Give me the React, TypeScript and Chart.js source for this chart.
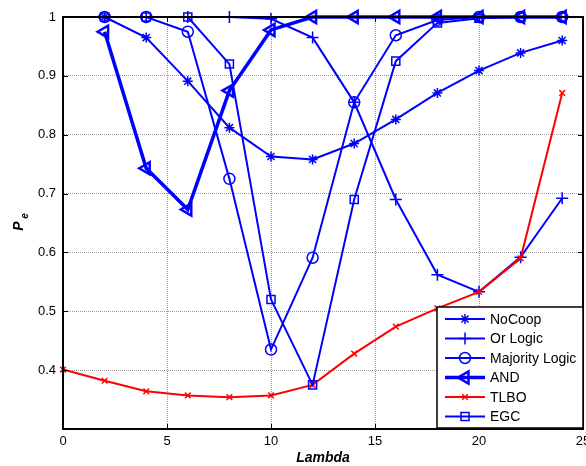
import React, { useEffect, useRef } from "react";
import { Chart, registerables } from "chart.js";
import { drawPoint } from "chart.js/helpers";

Chart.register(...registerables);

const LAMBDA = [2, 4, 6, 8, 10, 12, 14, 16, 18, 20, 22, 24];
const LAMBDA_TLBO = [0, 2, 4, 6, 8, 10, 12, 14, 16, 18, 20, 22, 24];

const NOCOOP = [1.0, 0.965, 0.891, 0.812, 0.763, 0.758, 0.785, 0.826, 0.871, 0.909, 0.939, 0.96];
const OR_LOGIC = [1.0, 1.0, 1.0, 1.0, 0.997, 0.965, 0.855, 0.69, 0.562, 0.533, 0.592, 0.692];
const MAJORITY = [1.0, 1.0, 0.975, 0.725, 0.435, 0.591, 0.855, 0.969, 0.995, 1.0, 1.0, 1.0];
const AND_LOGIC = [0.975, 0.743, 0.673, 0.875, 0.978, 1.0, 1.0, 1.0, 1.0, 1.0, 1.0, 1.0];
const TLBO = [0.401, 0.382, 0.364, 0.357, 0.354, 0.357, 0.375, 0.428, 0.474, 0.505, 0.533, 0.59, 0.871];
const EGC = [1.0, 1.0, 1.0, 0.92, 0.52, 0.375, 0.69, 0.925, 0.99, 0.998, 1.0, 1.0];

const X_TICKS = [0, 5, 10, 15, 20, 25];
const Y_TICKS = [0.3, 0.4, 0.5, 0.6, 0.7, 0.8, 0.9, 1];

const FONT = "'Liberation Sans', Arial, sans-serif";

const toPts = (xs: number[], ys: number[]) => xs.map((x, i) => ({ x, y: ys[i] }));

export default function App() {
  const ref = useRef<HTMLCanvasElement | null>(null);

  useEffect(() => {
    if (!ref.current) return;
    const blue = "#0000ff";
    const red = "#ff0000";
    const mk = (label: string, xs: number[], ys: number[], color: string, lw: number, style: string, r: number, rot: number, order: number) => ({
      label,
      data: toPts(xs, ys),
      borderColor: color,
      backgroundColor: color,
      borderWidth: lw,
      pointStyle: style,
      pointRadius: r,
      pointRotation: rot,
      pointBorderColor: color,
      pointBackgroundColor: "rgba(0,0,0,0)",
      pointBorderWidth: Math.max(1.5, lw * 0.7),
      tension: 0,
      clip: false,
      order,
    });
    const datasets: any[] = [
      mk("NoCoop", LAMBDA, NOCOOP, blue, 2, "star", 5, 0, 5),
      mk("Or Logic", LAMBDA, OR_LOGIC, blue, 2, "cross", 6, 0, 4),
      mk("Majority Logic", LAMBDA, MAJORITY, blue, 2, "circle", 5.5, 0, 3),
      mk("AND", LAMBDA, AND_LOGIC, blue, 3.5, "triangle", 7, -90, 2),
      mk("TLBO", LAMBDA_TLBO, TLBO, red, 2, "crossRot", 4, 0, 1),
      mk("EGC", LAMBDA, EGC, blue, 2, "rect", 5.7, 0, 0),
    ];

    const framePlugin = {
      id: "frame",
      afterDraw(chart: any) {
        const { ctx, chartArea: a } = chart;
        const xs = chart.scales.x;
        const ys = chart.scales.y;
        ctx.save();
        // inward ticks
        ctx.strokeStyle = "#000";
        ctx.lineWidth = 1;
        for (const t of X_TICKS) {
          const px = Math.round(xs.getPixelForValue(t)) + 0.5;
          ctx.beginPath();
          ctx.moveTo(px, a.bottom);
          ctx.lineTo(px, a.bottom - 5);
          ctx.moveTo(px, a.top);
          ctx.lineTo(px, a.top + 5);
          ctx.stroke();
        }
        for (const t of Y_TICKS) {
          const py = Math.round(ys.getPixelForValue(t)) + 0.5;
          ctx.beginPath();
          ctx.moveTo(a.left, py);
          ctx.lineTo(a.left + 5, py);
          ctx.moveTo(a.right, py);
          ctx.lineTo(a.right - 5, py);
          ctx.stroke();
        }
        // frame
        ctx.lineWidth = 2;
        ctx.strokeRect(a.left, a.top, a.right - a.left, a.bottom - a.top);

        // legend
        const lx = 437, ly = 307, lw = 146, lh = 121;
        ctx.fillStyle = "#fff";
        ctx.fillRect(lx, ly, lw, lh);
        ctx.lineWidth = 1.5;
        ctx.strokeStyle = "#000";
        ctx.strokeRect(lx, ly, lw, lh);
        ctx.font = `14px ${FONT}`;
        ctx.textBaseline = "middle";
        ctx.textAlign = "left";
        datasets.forEach((d, i) => {
          const y = 319 + i * 19.5;
          ctx.strokeStyle = d.borderColor;
          ctx.lineWidth = d.borderWidth;
          ctx.beginPath();
          ctx.moveTo(445, y);
          ctx.lineTo(485, y);
          ctx.stroke();
          ctx.fillStyle = "rgba(0,0,0,0)";
          ctx.lineWidth = d.pointBorderWidth;
          drawPoint(ctx, { pointStyle: d.pointStyle, radius: d.pointRadius, rotation: d.pointRotation, borderWidth: d.pointBorderWidth }, 465, y);
          ctx.fillStyle = "#000";
          ctx.fillText(d.label, 490, y + 1);
        });

        // axis titles
        ctx.fillStyle = "#000";
        ctx.font = `bold italic 14px ${FONT}`;
        ctx.textAlign = "center";
        ctx.fillText("Lambda", (a.left + a.right) / 2, 458);
        ctx.save();
        ctx.translate(19, 226);
        ctx.rotate(-Math.PI / 2);
        ctx.fillText("P", 0, 0);
        ctx.font = `bold italic 10px ${FONT}`;
        ctx.fillText("e", 10, 6);
        ctx.restore();
        ctx.restore();
      },
    };

    const chart = new Chart(ref.current, {
      type: "line",
      data: { datasets },
      options: {
        animation: false,
        responsive: false,
        maintainAspectRatio: false,
        layout: { autoPadding: false, padding: { left: 0, top: 17, right: 3, bottom: 0 } },
        plugins: { legend: { display: false }, tooltip: { enabled: false } },
        scales: {
          x: {
            type: "linear",
            min: 0,
            max: 25,
            afterBuildTicks: (s: any) => { s.ticks = X_TICKS.map((v) => ({ value: v })); },
            afterFit: (s: any) => { s.height = 37; s.paddingLeft = 0; s.paddingRight = 0; },
            ticks: { color: "#000", font: { family: FONT, size: 13 }, padding: 5, maxRotation: 0, autoSkip: false },
            grid: { color: "#9a9a9a", lineWidth: 1, drawTicks: false },
            border: { display: true, color: "#000", width: 2, dash: [1, 1] } as any,
          },
          y: {
            type: "linear",
            min: 0.3,
            max: 1,
            afterBuildTicks: (s: any) => { s.ticks = Y_TICKS.map((v) => ({ value: v })); },
            afterFit: (s: any) => { s.width = 63; s.paddingTop = 0; s.paddingBottom = 0; },
            ticks: {
              color: "#000",
              font: { family: FONT, size: 13 },
              padding: 7,
              autoSkip: false,
              callback: (v: any) => (Math.abs(v - 0.3) < 1e-6 ? "" : String(Math.round(v * 10) / 10)),
            },
            grid: { color: "#9a9a9a", lineWidth: 1, drawTicks: false },
            border: { display: true, color: "#000", width: 2, dash: [1, 1] } as any,
          },
        },
      },
      plugins: [framePlugin],
    } as any);
    return () => chart.destroy();
  }, []);

  return (
    <div style={{ position: "fixed", left: 0, top: 0, width: 586, height: 466, background: "#fff" }}>
      <canvas ref={ref} width={586} height={466} style={{ width: 586, height: 466 }} />
    </div>
  );
}
